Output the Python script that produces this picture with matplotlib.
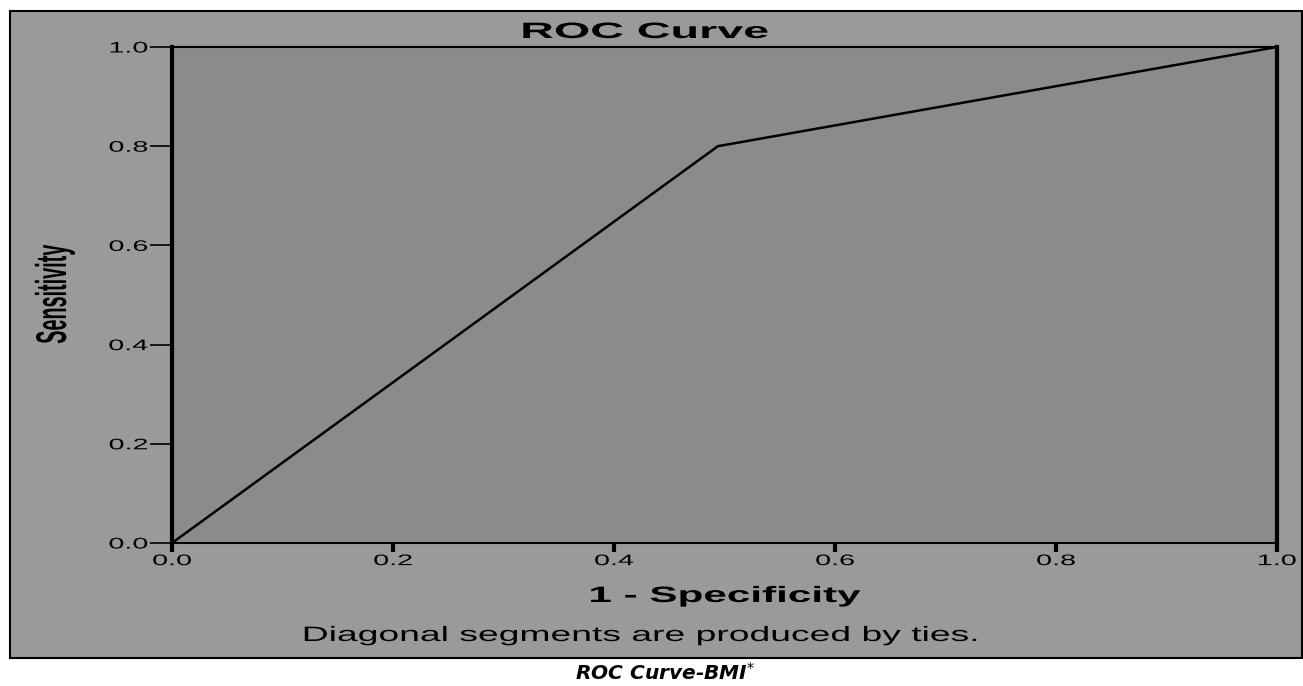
import matplotlib.pyplot as plt
from matplotlib.patches import Rectangle
from matplotlib.patheffects import AbstractPathEffect
from matplotlib.transforms import Affine2D

# ROC curve points (1 - specificity, sensitivity)
fpr = [0.0, 0.494, 1.0]
tpr = [0.0, 0.80, 1.0]
ticks = [0.0, 0.2, 0.4, 0.6, 0.8, 1.0]
tick_labels = ["0.0", "0.2", "0.4", "0.6", "0.8", "1.0"]


# the source image is stretched sideways, so widen the glyphs to match
class Stretch(AbstractPathEffect):
    def __init__(self, sx, anchor="center"):
        super().__init__()
        self.sx = sx
        self.anchor = anchor

    def draw_path(self, renderer, gc, tpath, affine, rgbFace=None):
        ext = tpath.get_extents()
        cx = {"left": ext.x0, "right": ext.x1}.get(self.anchor, (ext.x0 + ext.x1) / 2)
        pre = Affine2D().translate(-cx, 0).scale(self.sx, 1).translate(cx, 0)
        renderer.draw_path(gc, tpath, pre + affine, rgbFace)


W, H = 1303, 686
fig = plt.figure(figsize=(W / 100, H / 100), dpi=100)
fig.patch.set_facecolor("white")

# outer grey panel
fig.patches.append(Rectangle((10 / W, 1 - 658 / H), (1302 - 10) / W, (658 - 11) / H,
                             transform=fig.transFigure, facecolor="#9a9a9a",
                             edgecolor="black", linewidth=1.5, zorder=-1))

ax = fig.add_axes([172 / W, 1 - 543 / H, (1277 - 172) / W, (543 - 47) / H])
ax.set_facecolor("#8b8b8b")
ax.plot(fpr, tpr, color="black", linewidth=1.8, clip_on=False)
ax.set_xlim(0, 1)
ax.set_ylim(0, 1)

for side in ["left", "right"]:
    ax.spines[side].set_linewidth(3)
for side in ["top", "bottom"]:
    ax.spines[side].set_linewidth(1.5)

ax.set_xticks(ticks)
ax.set_xticklabels(tick_labels)
ax.set_yticks(ticks)
ax.set_yticklabels(tick_labels)
ax.tick_params(axis="x", direction="out", length=6.5, width=3, pad=1.5,
               labelsize=11)
ax.tick_params(axis="y", direction="out", length=16, width=1.2, pad=1.5,
               labelsize=11)
for lab in ax.get_xticklabels():
    lab.set_family("Liberation Sans")
    lab.set_path_effects([Stretch(1.88)])
for lab in ax.get_yticklabels():
    lab.set_family("Liberation Sans")
    lab.set_path_effects([Stretch(1.88, "right")])

fig.text(645 / W, 1 - 38 / H, "ROC Curve", ha="center", va="baseline",
         fontsize=16, fontweight="bold", family="Liberation Sans",
         path_effects=[Stretch(2.1)])
fig.text(725 / W, 1 - 602 / H, "1 - Specificity", ha="center", va="baseline",
         fontsize=16, fontweight="bold", family="Liberation Sans",
         path_effects=[Stretch(1.9)])
fig.text(55 / W, 1 - 295 / H, "Sensitivity", ha="center", va="center",
         rotation=90, fontsize=31, fontweight="bold", family="Liberation Sans",
         path_effects=[Stretch(0.46)])
fig.text(641 / W, 1 - 641 / H, "Diagonal segments are produced by ties.",
         ha="center", va="baseline", fontsize=15, family="Liberation Sans",
         path_effects=[Stretch(1.79)])
fig.text(665 / W, 1 - 680 / H, r"ROC Curve-BMI$^{*}$", ha="center", va="baseline",
         fontsize=14.5, fontweight="bold", style="italic", family="DejaVu Sans")

fig.savefig("out.png", dpi=100)
